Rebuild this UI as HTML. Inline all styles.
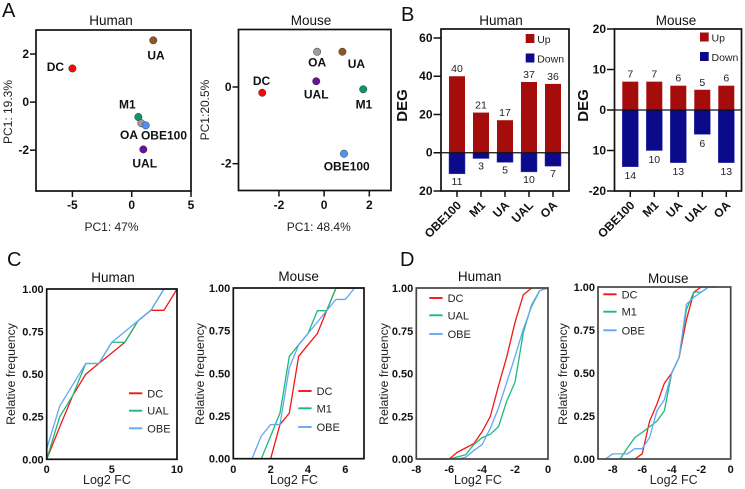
<!DOCTYPE html>
<html lang="en">
<head>
<meta charset="utf-8">
<title>PCA, DEG and cumulative frequency panels</title>
<style>
html,body{margin:0;padding:0;background:#fff;}
#figure{display:block;width:745px;height:489px;font-family:"Liberation Sans",Arial,sans-serif;}
</style>
</head>
<body>
<svg id="figure" xmlns="http://www.w3.org/2000/svg" width="745" height="489" viewBox="0 0 745 489"></svg>
<script>
// ---- Panel A data ----
const pcaHumanNames = ["DC","UA","M1","OA","OBE100","UAL"];
const pcaHumanPc1 = [-5,1.82,0.56,0.81,1.18,0.98];
const pcaHumanPc2 = [1.4,2.57,-0.62,-0.88,-0.97,-1.97];
const pcaMouseNames = ["DC","OA","UA","UAL","M1","OBE100"];
const pcaMousePc1 = [-2.74,-0.31,0.81,-0.35,1.73,0.88];
const pcaMousePc2 = [-0.15,0.92,0.92,0.15,-0.06,-1.74];
const pcaHumanXTicks = [-5,0,5];
const pcaHumanYTicks = [2,0,-2];
const pcaMouseXTicks = [-2,0,2];
const pcaMouseYTicks = [0,-2];

// ---- Panel B data ----
const degCategories = ["OBE100","M1","UA","UAL","OA"];
const degHumanUp = [40,21,17,37,36];
const degHumanDown = [11,3,5,10,7];
const degMouseUp = [7,7,6,5,6];
const degMouseDown = [14,10,13,6,13];
const degHumanTicks = [60,40,20,0,-20];
const degHumanTickLabels = ["60","40","20","0","20"];
const degMouseTicks = [20,10,0,-10,-20];
const degMouseTickLabels = ["20","10","0","10","-20"];

// ---- Panel C data ----
const cHumanDcX = [0,1,2,3,4,5,6,7,8,9,10];
const cHumanDcY = [0,0.19,0.375,0.5,0.5625,0.625,0.6875,0.8125,0.875,0.875,1];
const cHumanUalX = [0,1,2,3,4,5,6,7,8,9,10];
const cHumanUalY = [0,0.25,0.375,0.5625,0.5625,0.6875,0.6875,0.8125,0.875,1,1];
const cHumanObeX = [0,1,2,3,4,5,6,7,8,9,10];
const cHumanObeY = [0.0625,0.3125,0.4375,0.5625,0.5625,0.6875,0.75,0.8125,0.875,1,1];
const cMouseDcX = [0,2,2.5,3,3.5,4,4.5,5,5.5,7];
const cMouseDcY = [0,0,0.2,0.267,0.6,0.667,0.733,0.867,1,1];
const cMouseM1X = [0,1.5,2,2.5,3,3.5,4,4.5,5,5.5,7];
const cMouseM1Y = [0,0,0.133,0.267,0.6,0.667,0.733,0.867,0.867,1,1];
const cMouseObeX = [0,1,1.5,2,2.5,3,3.5,4,4.5,5,5.5,6,6.5,7];
const cMouseObeY = [0,0,0.133,0.2,0.2,0.533,0.667,0.733,0.8,0.867,0.933,0.933,1,1];

// ---- Panel D data ----
const dHumanDcX = [-8,-6,-5.5,-5,-4.5,-4,-3.5,-3,-2.5,-2,-1.5,-1,0];
const dHumanDcY = [0,0,0.04,0.065,0.09,0.16,0.25,0.43,0.6,0.8,0.96,1,1];
const dHumanUalX = [-8,-6,-5,-4.5,-4,-3.5,-3,-2.5,-2,-1.5,-1,-0.5,0];
const dHumanUalY = [0,0,0.025,0.085,0.125,0.145,0.19,0.34,0.45,0.74,0.9,0.985,1];
const dHumanObeX = [-8,-5.5,-5,-4.5,-4,-3.5,-3,-2.5,-2,-1.5,-1,-0.5,0];
const dHumanObeY = [0,0,0.01,0.05,0.085,0.18,0.3,0.45,0.6,0.76,0.89,0.985,1];
const dMouseDcX = [-6.5,-6,-5.5,-5,-4.5,-4,-3.5,-3,-2.5,-2,-1];
const dMouseDcY = [0,0.03,0.22,0.32,0.44,0.5,0.59,0.81,0.97,1,1];
const dMouseM1X = [-8.5,-7.5,-7,-6.5,-6,-5,-4.5,-4,-3.5,-3,-2.5,-2,-1.5,-1];
const dMouseM1Y = [0,0,0.065,0.125,0.155,0.22,0.28,0.5,0.59,0.87,0.97,0.97,1,1];
const dMouseObeX = [-8.5,-8,-7,-6.5,-6,-5.5,-5,-4.5,-4,-3.5,-3,-2.5,-2,-1.5];
const dMouseObeY = [0,0.03,0.03,0.06,0.06,0.125,0.28,0.345,0.5,0.59,0.9,0.94,0.97,1];
const freqTicks = [0,0.25,0.5,0.75,1];
const freqTickLabels = ["0.00","0.25","0.50","0.75","1.00"];
const cHumanXTicks = [0,5,10];
const cMouseXTicks = [0,2,4,6];
const dXTicks = [-8,-6,-4,-2,0];

// ---- Styling lookups (not data) ----
const pointColors = {DC:"#f50a0a",UA:"#8c5a1f",M1:"#0f9468",OA:"#9c9c9c",OBE100:"#4f94ee",UAL:"#6a0f9a"};
const lineColors = {DC:"#f21616",UAL:"#1dba7a",M1:"#1dba7a",OBE:"#62a8f5"};
const humanLabelShift = {DC:[-17,2.5],UA:[2.7,19],M1:[-11,-8.5],OA:[-12.3,16],OBE100:[18.3,14],UAL:[1.4,18]};
const mouseLabelShift = {DC:[-0.7,-8],OA:[0,15],UA:[14,16.5],UAL:[0,17],M1:[0.7,19],OBE100:[2.7,17]};

const svg = document.getElementById("figure");
const NS = "http://www.w3.org/2000/svg";

function el(tag, attrs, name) {
  const e = document.createElementNS(NS, tag);
  for (const k in attrs) e.setAttribute(k, attrs[k]);
  
  
  svg.appendChild(e);
  return e;
}
function txt(str, x, y, size, name, opts) {
  const o = opts || {};
  const a = {x:x, y:y, "font-size":size, fill:o.fill || "#111"};
  if (o.anchor) a["text-anchor"] = o.anchor;
  if (o.bold) a["font-weight"] = "bold";
  if (o.rotate !== undefined) a.transform = "rotate(" + o.rotate + " " + x + " " + y + ")";
  const t = el("text", a, name);
  t.textContent = str;
  return t;
}
function scale(d0, d1, r0, r1) {
  return function (v) { return r0 + (v - d0) / (d1 - d0) * (r1 - r0); };
}
function frame(l, t, r, b, name, color) {
  el("rect", {x:l, y:t, width:r - l, height:b - t, fill:"none", stroke:color || "#111", "stroke-width":1.7}, name);
}
function tickX(values, labels, sx, b, tickLen, base, prefix, size) {
  values.forEach(function (v, i) {
    if (tickLen) el("line", {x1:sx(v), x2:sx(v), y1:b, y2:b + tickLen, stroke:"#111", "stroke-width":1.5}, prefix + "-x-tick");
    txt(labels ? labels[i] : String(v), sx(v), base, size, prefix + "-x-tick-label", {anchor:"middle", bold:true});
  });
}
function tickY(values, labels, sy, l, tickLen, gap, prefix, size) {
  values.forEach(function (v, i) {
    if (tickLen) el("line", {x1:l - tickLen, x2:l, y1:sy(v), y2:sy(v), stroke:"#111", "stroke-width":1.5}, prefix + "-y-tick");
    txt(labels ? labels[i] : String(v), l - tickLen - gap, sy(v) + 4, size, prefix + "-y-tick-label", {anchor:"end", bold:true});
  });
}

// ---- Panel letters ----
txt("A", 2, 17, 20, "panel-label-a");
txt("B", 401, 21, 20, "panel-label-b");
txt("C", 7, 266, 20, "panel-label-c");
txt("D", 400, 266, 20, "panel-label-d");

// ---- Panel A ----
function drawPca(o) {
  const sx = scale(o.xDom[0], o.xDom[1], o.l, o.r);
  const sy = scale(o.yDom[0], o.yDom[1], o.b, o.t);
  frame(o.l, o.t, o.r, o.b, o.prefix + "-frame");
  tickX(o.xTicks, null, sx, o.b, 6, 209, o.prefix, 12);
  tickY(o.yTicks, null, sy, o.l, 6, 1, o.prefix, 12);
  o.names.forEach(function (n, i) {
    el("circle", {cx:sx(o.xs[i]), cy:sy(o.ys[i]), r:3.7, fill:pointColors[n], stroke:"#333", "stroke-width":0.5}, o.prefix + "-point-" + n.toLowerCase());
  });
  o.names.forEach(function (n, i) {
    const s = o.shift[n];
    txt(n, sx(o.xs[i]) + s[0], sy(o.ys[i]) + s[1], 12, o.prefix + "-point-label-" + n.toLowerCase(), {anchor:"middle", bold:true});
  });
  txt(o.title, o.titleX, 25, 13.5, o.prefix + "-title", {anchor:"middle"});
  txt(o.xTitle, (o.l + o.r) / 2 + o.xTitleShift, 231, 12, o.prefix + "-x-axis-title", {anchor:"middle", fill:"#222"});
  txt(o.yTitle, o.yTitleX, o.yTitleY, 12, o.prefix + "-y-axis-title", {anchor:"middle", rotate:-90, fill:"#222"});
}
drawPca({prefix:"pca-human", l:36, r:191, t:30, b:191, xDom:[-8.07,5], yDom:[-3.7,3],
  xTicks:pcaHumanXTicks, yTicks:pcaHumanYTicks, names:pcaHumanNames, xs:pcaHumanPc1, ys:pcaHumanPc2,
  shift:humanLabelShift, title:"Human", titleX:111, xTitle:"PC1: 47%", xTitleShift:-2, yTitle:"PC1: 19.3%", yTitleX:12, yTitleY:112});
drawPca({prefix:"pca-mouse", l:238.5, r:391, t:29.5, b:190.5, xDom:[-3.79,2.96], yDom:[-2.7,1.5],
  xTicks:pcaMouseXTicks, yTicks:pcaMouseYTicks, names:pcaMouseNames, xs:pcaMousePc1, ys:pcaMousePc2,
  shift:mouseLabelShift, title:"Mouse", titleX:311, xTitle:"PC1: 48.4%", xTitleShift:4, yTitle:"PC1:20.5%", yTitleX:209, yTitleY:110});

// ---- Panel B ----
function drawDeg(o) {
  const sy = scale(o.yDom[0], o.yDom[1], o.b, o.t);
  const step = 24;
  const barW = 16;
  const cx = function (i) { return o.firstX + i * step; };
  degCategories.forEach(function (n, i) {
    el("rect", {x:cx(i) - barW / 2, y:sy(o.up[i]), width:barW, height:sy(0) - sy(o.up[i]), fill:"#a50c0c"}, o.prefix + "-bar-up-" + n.toLowerCase());
    el("rect", {x:cx(i) - barW / 2, y:sy(0), width:barW, height:sy(-o.down[i]) - sy(0), fill:"#0a0a8a", stroke:"#3a3aa6", "stroke-width":0.5}, o.prefix + "-bar-down-" + n.toLowerCase());
    txt(String(o.up[i]), cx(i), sy(o.up[i]) - 4, 10.5, o.prefix + "-value-up-" + n.toLowerCase(), {anchor:"middle", fill:"#222"});
    txt(String(o.down[i]), cx(i), sy(-o.down[i]) + o.downGap, 10.5, o.prefix + "-value-down-" + n.toLowerCase(), {anchor:"middle", fill:"#222"});
    el("line", {x1:cx(i), x2:cx(i), y1:o.b, y2:o.b + 6, stroke:"#111", "stroke-width":1.5}, o.prefix + "-x-tick");
    txt(n, cx(i) + 5, o.b + 15, 12, o.prefix + "-x-tick-label", {anchor:"end", bold:true, rotate:-45});
  });
  el("line", {x1:o.l, x2:o.r, y1:sy(0), y2:sy(0), stroke:"#111", "stroke-width":1.3}, o.prefix + "-zero-line");
  frame(o.l, o.t, o.r, o.b, o.prefix + "-frame");
  tickY(o.ticks, o.tickLabels, sy, o.l, 7.5, 1, o.prefix, 12);
  txt(o.title, o.titleX, 25, 13.5, o.prefix + "-title", {anchor:"middle"});
  txt("DEG", o.yTitleX, 105.5, 15, o.prefix + "-y-axis-title", {anchor:"middle", bold:true, rotate:-90});
  el("rect", {x:o.legX, y:o.legY, width:8.7, height:9, fill:"#a50c0c"}, o.prefix + "-legend-swatch-up");
  txt("Up", o.legX + 11.5, o.legY + 9, 10.5, o.prefix + "-legend-label-up", {fill:"#222"});
  el("rect", {x:o.legX, y:o.legY + 19.5, width:8.7, height:9, fill:"#0a0a8a"}, o.prefix + "-legend-swatch-down");
  txt("Down", o.legX + 11.5, o.legY + 28.5, 10.5, o.prefix + "-legend-label-down", {fill:"#222"});
}
drawDeg({prefix:"deg-human", l:441, r:569, t:29, b:191, yDom:[-20,64.7], firstX:457, downGap:11,
  up:degHumanUp, down:degHumanDown, ticks:degHumanTicks, tickLabels:degHumanTickLabels,
  title:"Human", titleX:501, yTitleX:407, legX:525.7, legY:34});
drawDeg({prefix:"deg-mouse", l:614.5, r:741.5, t:29, b:191, yDom:[-20,20], firstX:630.3, downGap:12.5,
  up:degMouseUp, down:degMouseDown, ticks:degMouseTicks, tickLabels:degMouseTickLabels,
  title:"Mouse", titleX:676, yTitleX:588, legX:700, legY:32.5});

// ---- Panels C and D ----
function drawFreq(o) {
  const sx = scale(o.xDom[0], o.xDom[1], o.l, o.r);
  const sy = scale(0, 1, o.b, o.t);
  o.series.forEach(function (s) {
    const pts = s.x.map(function (v, i) { return sx(v).toFixed(2) + "," + sy(s.y[i]).toFixed(2); }).join(" ");
    el("polyline", {points:pts, fill:"none", stroke:lineColors[s.name], "stroke-width":1.3, "stroke-linejoin":"round"}, o.prefix + "-line-" + s.name.toLowerCase());
  });
  frame(o.l, o.t, o.r, o.b, o.prefix + "-frame", o.frameColor);
  tickX(o.xTicks, null, sx, o.b, 0, 473, o.prefix, 11);
  tickY(freqTicks, freqTickLabels, sy, o.l, 0, 3, o.prefix, 11);
  txt(o.title, o.titleX, o.titleY, 13.5, o.prefix + "-title", {anchor:"middle"});
  txt("Log2 FC", o.xTitleX, 484, 12.5, o.prefix + "-x-axis-title", {anchor:"middle", fill:"#222"});
  txt("Relative frequency", o.yTitleX, 374, 12.3, o.prefix + "-y-axis-title", {anchor:"middle", rotate:-90, fill:"#222"});
  o.series.forEach(function (s, i) {
    const y = o.legY[i];
    el("line", {x1:o.legX, x2:o.legX + 13.3, y1:y, y2:y, stroke:lineColors[s.name], "stroke-width":1.9}, o.prefix + "-legend-line-" + s.name.toLowerCase());
    txt(s.name, o.legX + 18.3, y + 4, 11, o.prefix + "-legend-label-" + s.name.toLowerCase(), {fill:"#222"});
  });
}
drawFreq({prefix:"c-human", l:46.7, r:177, t:289, b:459.3, xDom:[0,10], xTicks:cHumanXTicks,
  series:[{name:"DC",x:cHumanDcX,y:cHumanDcY},{name:"UAL",x:cHumanUalX,y:cHumanUalY},{name:"OBE",x:cHumanObeX,y:cHumanObeY}],
  title:"Human", titleX:113, titleY:282, xTitleX:107, yTitleX:15, legX:129, legY:[393.3,410.7,428.3]});
drawFreq({prefix:"c-mouse", l:233.3, r:364, t:288, b:458.7, xDom:[0,7], xTicks:cMouseXTicks,
  series:[{name:"DC",x:cMouseDcX,y:cMouseDcY},{name:"M1",x:cMouseM1X,y:cMouseM1Y},{name:"OBE",x:cMouseObeX,y:cMouseObeY}],
  title:"Mouse", titleX:298.7, titleY:281, xTitleX:294, yTitleX:204, legX:298.3, legY:[391,408.3,427]});
drawFreq({prefix:"d-human", l:416.3, r:548, t:288, b:459, xDom:[-8,0], xTicks:dXTicks, frameColor:"#444",
  series:[{name:"DC",x:dHumanDcX,y:dHumanDcY},{name:"UAL",x:dHumanUalX,y:dHumanUalY},{name:"OBE",x:dHumanObeX,y:dHumanObeY}],
  title:"Human", titleX:479.7, titleY:281, xTitleX:478, yTitleX:388, legX:429.3, legY:[298,315.3,334]});
drawFreq({prefix:"d-mouse", l:598, r:730.7, t:287, b:459, xDom:[-9,0], xTicks:dXTicks, frameColor:"#444",
  series:[{name:"DC",x:dMouseDcX,y:dMouseDcY},{name:"M1",x:dMouseM1X,y:dMouseM1Y},{name:"OBE",x:dMouseObeX,y:dMouseObeY}],
  title:"Mouse", titleX:668.3, titleY:283, xTitleX:673.7, yTitleX:567, legX:603.3, legY:[294.3,311.7,330.3]});
</script>
</body>
</html>
